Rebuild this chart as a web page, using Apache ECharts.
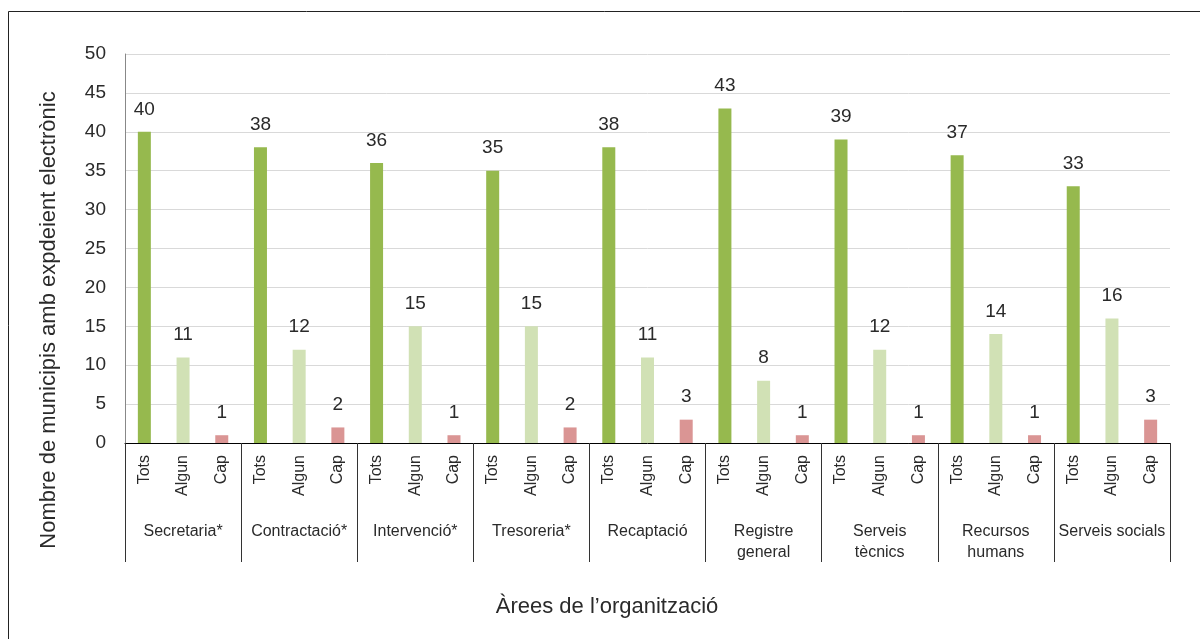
<!DOCTYPE html>
<html>
<head>
<meta charset="utf-8">
<title>Àrees de l'organització</title>
<script src="https://cdn.jsdelivr.net/npm/echarts@6/dist/echarts.min.js"></script>
<style>
  html, body { margin: 0; padding: 0; background: #fff; }
  #chart { width: 1200px; height: 639px; }
</style>
</head>
<body>
<div id="chart"></div>
<script>
// dades llegides del gràfic
var groups = ['Secretaria*', 'Contractació*', 'Intervenció*', 'Tresoreria*', 'Recaptació',
              'Registre\ngeneral', 'Serveis\ntècnics', 'Recursos\nhumans', 'Serveis socials'];
var subcats = ['Tots', 'Algun', 'Cap'];
var tots  = [40, 38, 36, 35, 38, 43, 39, 37, 33];
var algun = [11, 12, 15, 15, 11, 8, 12, 14, 16];
var cap   = [1, 2, 1, 2, 3, 1, 1, 1, 3];
var colors = ['#96b94e', '#d1e1b5', '#da9594'];

var cats = [], values = [];
for (var i = 0; i < groups.length; i++) {
  var vals = [tots[i], algun[i], cap[i]];
  for (var j = 0; j < 3; j++) {
    cats.push(subcats[j]);
    values.push({ value: vals[j], itemStyle: { color: colors[j] } });
  }
}

var font = 'Liberation Sans';
var txt = '#2a2a2a';
var chart = echarts.init(document.getElementById('chart'));
chart.setOption({
  animation: false,
  textStyle: { fontFamily: font },
  grid: { left: 125, right: 30, top: 54, bottom: 196 },
  xAxis: [{
    type: 'category',
    data: cats,
    axisLine: { lineStyle: { color: '#000', width: 1 } },
    axisTick: { show: false },
    axisLabel: { rotate: 90, interval: 0, margin: 12, fontSize: 16, color: txt, fontFamily: font }
  }, {
    type: 'category',
    data: groups,
    position: 'bottom',
    axisLine: { show: false },
    axisTick: { show: true, length: 119, lineStyle: { color: '#333', width: 1 } },
    axisLabel: { interval: 0, margin: 78, fontSize: 16, lineHeight: 21, color: txt, fontFamily: font }
  }],
  yAxis: {
    type: 'value',
    min: 0, max: 50, interval: 5,
    axisLine: { show: true, lineStyle: { color: '#888' } },
    axisTick: { show: false },
    splitLine: { lineStyle: { color: '#d9d9d9' } },
    axisLabel: { fontSize: 19, color: txt, margin: 19, fontFamily: font }
  },
  series: [{
    type: 'bar',
    xAxisIndex: 0,
    data: values,
    barWidth: 13,
    label: { show: true, position: 'top', distance: 13, fontSize: 19, color: txt, fontFamily: font }
  }],
  graphic: [{
    type: 'rect',
    shape: { x: 8.5, y: 11.5, width: 1200, height: 640 },
    style: { fill: 'none', stroke: '#222', lineWidth: 1 },
    silent: true
  }, {
    type: 'text',
    x: 49, y: 320,
    rotation: Math.PI / 2,
    style: { text: 'Nombre de municipis amb expdeient electrònic', fontSize: 22, fill: txt,
             fontFamily: font, align: 'center', verticalAlign: 'middle' }
  }, {
    type: 'text',
    x: 607, y: 607,
    style: { text: 'Àrees de l’organització', fontSize: 22, fill: txt,
             fontFamily: font, align: 'center', verticalAlign: 'middle' }
  }]
});
</script>
</body>
</html>
